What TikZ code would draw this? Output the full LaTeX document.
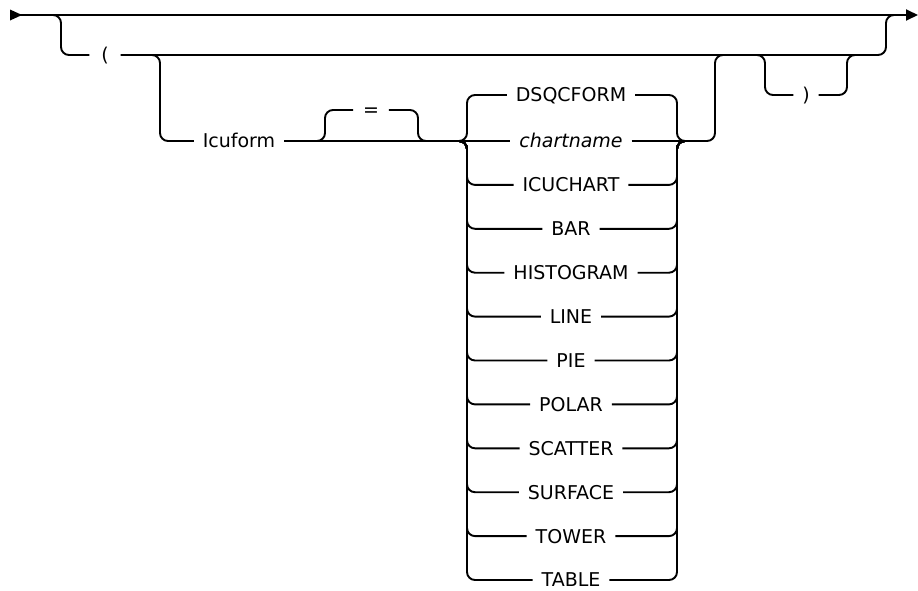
\documentclass[tikz,border=0pt]{standalone}
\usepackage{fontspec}
\setmainfont{DejaVu Sans}
\usetikzlibrary{arrows.meta}
\tikzset{
    syn/diagram/.style={
        x=1pt, y=-1pt,
        font=\fontsize{19}{22}\selectfont,
        line width=1.9pt,
        line join=round
    },
    syn/path/.style={draw=black, line width=1.9pt, rounded corners=8pt},
    syn/term/.style={inner xsep=9pt, inner ysep=0pt, outer sep=0pt,
        text height=13.8pt, text depth=0pt},
    syn/var/.style={syn/term, font=\fontsize{19}{22}\selectfont\itshape},
    syn/tip/.style={-{Triangle[length=12pt, width=11pt]}}
}
\begin{document}
\begin{tikzpicture}[syn/diagram]
    \useasboundingbox (0,0) rectangle (918,590);
    % Main line with start and end markers.
    \coordinate (start) at (10,15);
    \coordinate (finish) at (918,15);
    \fill (start) ++(0,-5.5) -- ++(12,5.5) -- ++(-12,5.5) -- cycle;
    \draw[syn/path, syn/tip] (start) -- (finish);

    % Optional parenthesised group.
    \node[syn/term, inner xsep=12pt] (lpar) at (105,55) {(};
    \coordinate (grpin) at (44,15);
    \draw[syn/path] (grpin) -| (61,55) -- (lpar.west);
    \draw[syn/path] (lpar.east) -| (886,15) -- (895,15);

    % Icuform keyword with optional equals sign.
    \node[syn/term] (icu) at (239,141) {Icuform\hspace{9pt}};
    \draw[syn/path] (142,55) -| (160,141) -- (icu.west);
    \node[syn/term, inner xsep=10pt] (eq) at (371,110) {=};
    \coordinate (stackin) at (455,141);
    \coordinate (stackout) at (689,141);
    \draw[syn/path] (icu.east) -- (stackin);
    \draw[syn/path] (316,141) -| (325,110) -- (eq.west);
    \draw[syn/path] (eq.east) -| (418,141) -- (427,141);

    % Choice stack, default above the line.
    \node[syn/term] (dsq) at (571,95) {DSQCFORM\hspace{9pt}};
    \draw[syn/path] (stackin) -| (467,95) -- (dsq.west);
    \draw[syn/path] (dsq.east) -| (677,141) -- (stackout);
    \node[syn/var] (chart) at (571,141) {chartname\hspace{9pt}};
    \draw[syn/path] (stackin) -- (chart.west) (chart.east) -- (stackout);
    \foreach \lab [count=\k] in {ICUCHART,BAR,HISTOGRAM,LINE,PIE,POLAR,
                                 SCATTER,SURFACE,TOWER,TABLE} {
        \node[syn/term] (opt\k) at (571,{141+43.9*\k}) {\lab\hspace{9pt}};
        \draw[syn/path] (stackin) -| (467,{141+43.9*\k}) -- (opt\k.west);
        \draw[syn/path] (opt\k.east) -| (677,141) -- (stackout);
    }
    \draw[syn/path] (stackout) -| (715,55) -- (724,55);

    % Optional closing parenthesis.
    \node[syn/term] (rpar) at (806,95) {)};
    \draw[syn/path] (757,55) -| (765,95) -- (rpar.west);
    \draw[syn/path] (rpar.east) -| (847,55) -- (855,55);
\end{tikzpicture}
\end{document}
